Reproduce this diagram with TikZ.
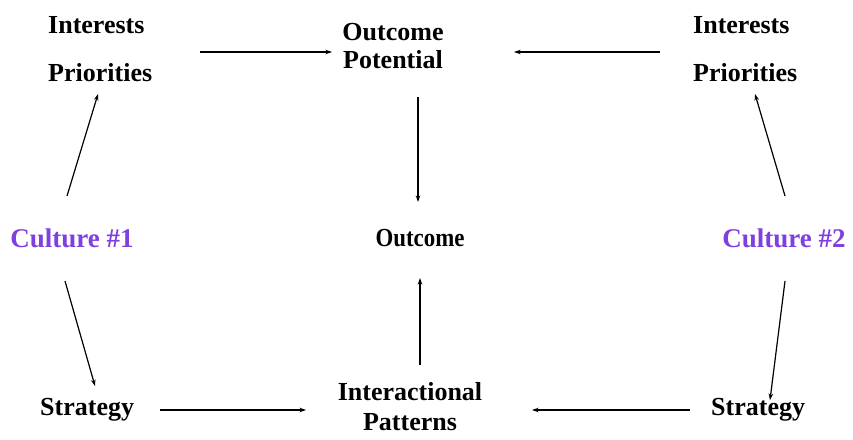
\documentclass[tikz,border=0pt]{standalone}
\usepackage{fontspec}
\setmainfont{Liberation Serif}
\usetikzlibrary{arrows.meta}
\definecolor{cult}{RGB}{128,64,224}
\tikzset{
  lbl/.style={font=\fontsize{26}{28}\selectfont\bfseries, inner sep=0pt, align=center},
  cul/.style={lbl, font=\fontsize{27}{28}\selectfont\bfseries, text=cult},
  arr/.style={line width=1.2pt, -{Stealth[length=6.5pt,width=4.5pt]}}
}
\begin{document}
\begin{tikzpicture}[x=1pt,y=-1pt]
\useasboundingbox (0,0) rectangle (853,439);
% nodes
\node[lbl, anchor=west] (i1) at (48,25) {Interests};
\node[lbl, anchor=west] (p1) at (48,73) {Priorities};
\node[lbl, anchor=west] (i2) at (693,25) {Interests};
\node[lbl, anchor=west] (p2) at (693,73) {Priorities};
\node[lbl] (op) at (393,46) {Outcome\\Potential};
\node[cul] (c1) at (72,238) {Culture \#1};
\node[cul] (c2) at (784,238) {Culture \#2};
\node[lbl] (oc) at (420,238) {\scalebox{0.88}[1]{Outcome}};
\node[lbl, anchor=west] (s1) at (40,410) {Strategy};
\node[lbl, anchor=west] (s2) at (711,410) {Strategy};
\node[lbl] (ip) at (410,407) {Interactional\\[2pt]Patterns};
% arrow end points
\coordinate (a1s) at (200,52);  \coordinate (a1e) at (332,52);
\coordinate (a2s) at (660,52);  \coordinate (a2e) at (514,52);
\coordinate (a3s) at (418,97);  \coordinate (a3e) at (418,202);
\coordinate (a4s) at (420,365); \coordinate (a4e) at (420,278);
\coordinate (a5s) at (67,196);  \coordinate (a5e) at (98,94);
\coordinate (a6s) at (785,196); \coordinate (a6e) at (755,94);
\coordinate (a7s) at (65,281);  \coordinate (a7e) at (95,386);
\coordinate (a8s) at (785,281); \coordinate (a8e) at (770,400);
\coordinate (a9s) at (160,410); \coordinate (a9e) at (306,410);
\coordinate (a10s) at (690,410); \coordinate (a10e) at (532,410);
% connectors
\draw[arr] (a1s) -- (a1e);
\draw[arr] (a2s) -- (a2e);
\draw[arr] (a3s) -- (a3e);
\draw[arr] (a4s) -- (a4e);
\draw[arr] (a5s) -- (a5e);
\draw[arr] (a6s) -- (a6e);
\draw[arr] (a7s) -- (a7e);
\draw[arr] (a8s) -- (a8e);
\draw[arr] (a9s) -- (a9e);
\draw[arr] (a10s) -- (a10e);
\end{tikzpicture}
\end{document}
